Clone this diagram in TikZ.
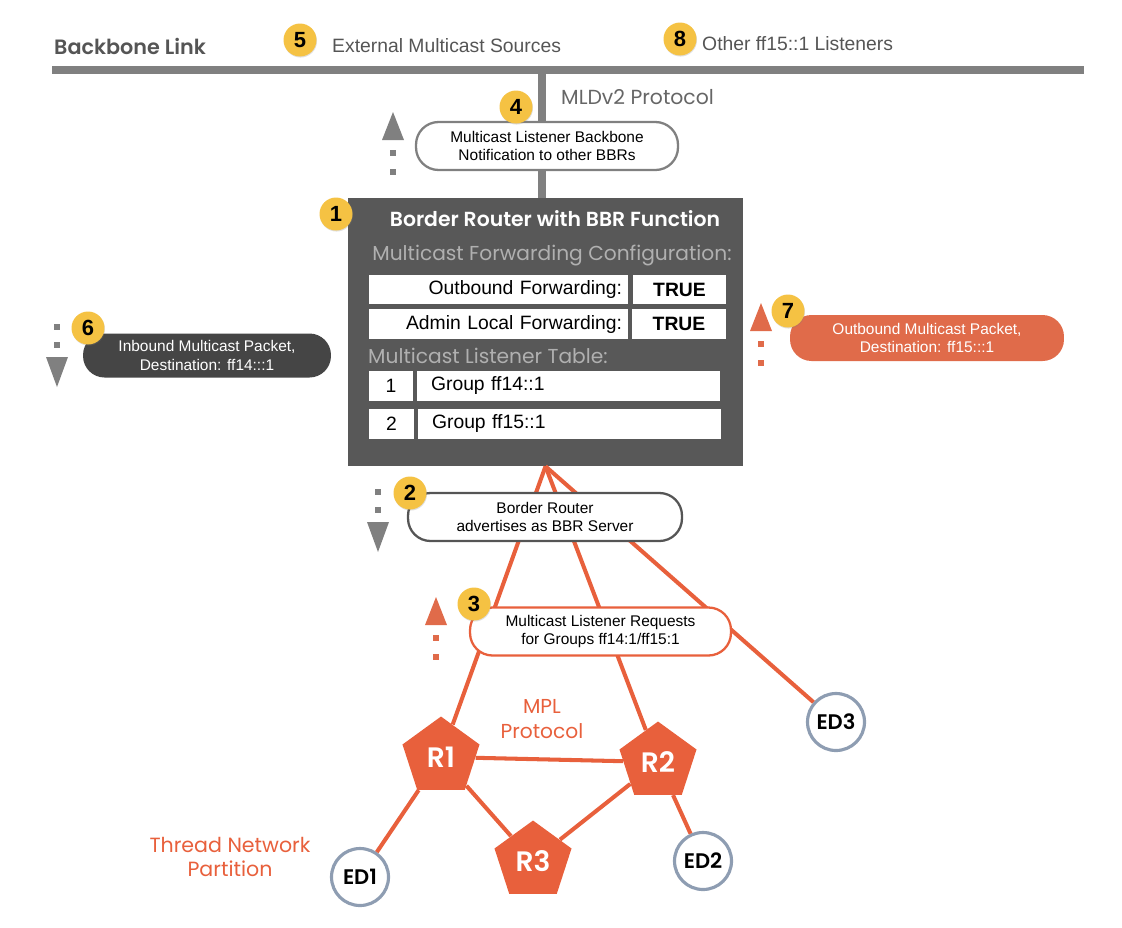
\documentclass[tikz,border=0pt]{standalone}
\usepackage{fontspec}
\setmainfont{Liberation Sans}
\newfontfamily\headfont{Poppins}[BoldFont={Poppins SemiBold}]
\usetikzlibrary{shapes.geometric,shadows}

\definecolor{barGray}{HTML}{808080}
\definecolor{textGray}{HTML}{555555}
\definecolor{boxGray}{HTML}{585858}
\definecolor{paleGray}{HTML}{B0B0B0}
\definecolor{badgeYellow}{HTML}{F5C243}
\definecolor{threadOrange}{HTML}{E8603C}
\definecolor{pillOrange}{HTML}{E06B4A}
\definecolor{pillDark}{HTML}{454545}
\definecolor{edBlue}{HTML}{8E9DB2}

\begin{document}
\begin{tikzpicture}[x=0.02cm, y=-0.02cm,
    badge/.style={circle, fill=badgeYellow, minimum size=0.66cm, inner sep=0pt, font=\bfseries\fontsize{12.5}{12.5}\selectfont, drop shadow={opacity=0.25, shadow xshift=0.3pt, shadow yshift=-0.6pt}},
    bubble/.style={draw=textGray, line width=1.3pt, fill=white, rounded corners=0.45cm, minimum height=0.96cm, align=center, font=\fontsize{8.8}{10.6}\selectfont},
    pill/.style={rounded corners=0.43cm, minimum height=0.88cm, align=center, text=white, font=\fontsize{8.8}{10.6}\selectfont},
    cell/.style={fill=white, minimum height=0.59cm, inner sep=0pt, font=\fontsize{11}{11}\selectfont},
    router/.style={regular polygon, regular polygon sides=5, fill=threadOrange, minimum size=1.62cm, inner sep=0pt, text=white, font=\headfont\bfseries\fontsize{16}{16}\selectfont},
    enddev/.style={circle, draw=edBlue, line width=1.8pt, fill=white, minimum size=1.14cm, inner sep=0pt, font=\headfont\bfseries\fontsize{12}{12}\selectfont},
    link/.style={threadOrange, line width=2.3pt},
    markup/.pic={\fill (-11,14) -- (0,-14) -- (11,14) -- cycle;
        \fill (-3,24) rectangle (3,30); \fill (-3,43) rectangle (3,49);},
    markdown/.pic={\fill (-11,-15) -- (0,15) -- (11,-15) -- cycle;
        \fill (-3,-48) rectangle (3,-42); \fill (-3,-30) rectangle (3,-24);}
]
    \useasboundingbox (0,0) rectangle (1122,927);

    % Backbone link and the tap down to the border router
    \coordinate (bbL) at (52,70);
    \coordinate (bbR) at (1084,70);
    \coordinate (tap) at (542,70);
    \draw[barGray, line width=5pt] (bbL) -- (bbR);
    \node[anchor=west, text=textGray, font=\headfont\bfseries\fontsize{11.8}{13}\selectfont] (bblabel) at (48,46) {Backbone Link};
    \node[anchor=west, text=textGray, font=\fontsize{11}{13}\selectfont] (extsrc) at (326,46) {External Multicast Sources};
    \node[anchor=west, text=textGray, font=\fontsize{11}{13}\selectfont] (otherl) at (696,44) {Other ff15::1 Listeners};
    \node[anchor=west, text=textGray!90, font=\headfont\fontsize{11.6}{13}\selectfont] (mld) at (555,97) {MLDv2 Protocol};

    % Border router box
    \node[fill=boxGray, minimum width=7.9cm, minimum height=5.36cm] (bbr) at (545.5,332) {};
    \draw[barGray, line width=4.5pt] (tap) -- (tap |- bbr.north);
    \node[text=white, font=\headfont\bfseries\fontsize{11.6}{13}\selectfont] (title) at (555,219) {Border Router with BBR Function};
    \node[text=paleGray, font=\headfont\fontsize{11.5}{13}\selectfont] (fwdcfg) at (552,256) {Multicast Forwarding Configuration:};
    \node[cell, text width=4.94cm, inner xsep=0.12cm, align=right] (outb) at (498.5,289.5) {Outbound Forwarding:};
    \node[cell, minimum width=1.86cm, font=\bfseries\fontsize{11}{11}\selectfont] (outbv) at (679.5,289.5) {TRUE};
    \node[cell, text width=4.94cm, inner xsep=0.12cm, align=right] (admin) at (498.5,324) {Admin Local Forwarding:};
    \node[cell, minimum width=1.88cm, font=\bfseries\fontsize{11}{11}\selectfont] (adminv) at (679,324) {TRUE};
    \node[anchor=west, text=paleGray, font=\headfont\fontsize{11.5}{13}\selectfont] (lsttab) at (362,356) {Multicast Listener Table:};
    \node[cell, minimum width=0.88cm] (idx1) at (391,386) {1};
    \node[cell, text width=5.5cm, inner xsep=0.28cm, align=left] (grp1) at (568.5,386) {Group ff14::1};
    \node[cell, minimum width=0.9cm] (idx2) at (391.5,424) {2};
    \node[cell, text width=5.5cm, inner xsep=0.28cm, align=left] (grp2) at (569.5,424) {Group ff15::1};

    % Thread network partition
    \node[router] (R1) at (441,757) {R1};
    \node[router] (R2) at (658,762) {R2};
    \node[router] (R3) at (533,861) {R3};
    \node[enddev] (ED1) at (360,877) {ED1};
    \node[enddev] (ED2) at (703,861) {ED2};
    \node[enddev] (ED3) at (836,722) {ED3};
    \draw[link] (bbr.south) -- (R1);
    \draw[link] (bbr.south) -- (R2);
    \draw[link] (bbr.south) -- (ED3);
    \draw[link] (R1) -- (R2);
    \draw[link] (R1) -- (R3);
    \draw[link] (R2) -- (R3);
    \draw[link] (R1) -- (ED1);
    \draw[link] (R2) -- (ED2);
    \node[align=center, text=threadOrange, font=\headfont\fontsize{11.5}{14}\selectfont] (mpl) at (542,719) {MPL\\Protocol};
    \node[align=center, text=threadOrange, font=\headfont\fontsize{11.7}{14}\selectfont] (partition) at (230,857) {Thread Network\\Partition};

    % Message bubbles
    \node[bubble, minimum width=5.24cm, draw=barGray] (notify) at (547,146) {Multicast Listener Backbone\\Notification to other BBRs};
    \node[bubble, minimum width=5.48cm] (advert) at (545,517) {Border Router\\advertises as BBR Server};
    \node[bubble, minimum width=5.22cm, draw=threadOrange] (request) at (600.5,631.5) {Multicast Listener Requests\\for Groups ff14:1/ff15:1};
    \node[pill, fill=pillDark, minimum width=4.96cm] (inbound) at (207,355.5) {Inbound Multicast Packet,\\Destination: ff14:::1};
    \node[pill, fill=pillOrange, minimum width=5.48cm, minimum height=0.92cm] (outbound) at (927,338) {Outbound Multicast Packet,\\Destination: ff15:::1};

    % Direction markers
    \pic[barGray] at (393,126) {markup};
    \pic[barGray] at (57,372) {markdown};
    \pic[barGray] at (378,537) {markdown};
    \pic[pillOrange] at (761,317) {markup};
    \pic[pillOrange] at (436,611) {markup};

    % Step badges
    \node[badge] (b1) at (336,214) {1};
    \node[badge] (b2) at (410,493) {2};
    \node[badge] (b3) at (474,604) {3};
    \node[badge] (b4) at (516,107) {4};
    \node[badge] (b5) at (300,40) {5};
    \node[badge] (b6) at (88,328) {6};
    \node[badge] (b7) at (788,311) {7};
    \node[badge] (b8) at (680,39) {8};
\end{tikzpicture}
\end{document}
